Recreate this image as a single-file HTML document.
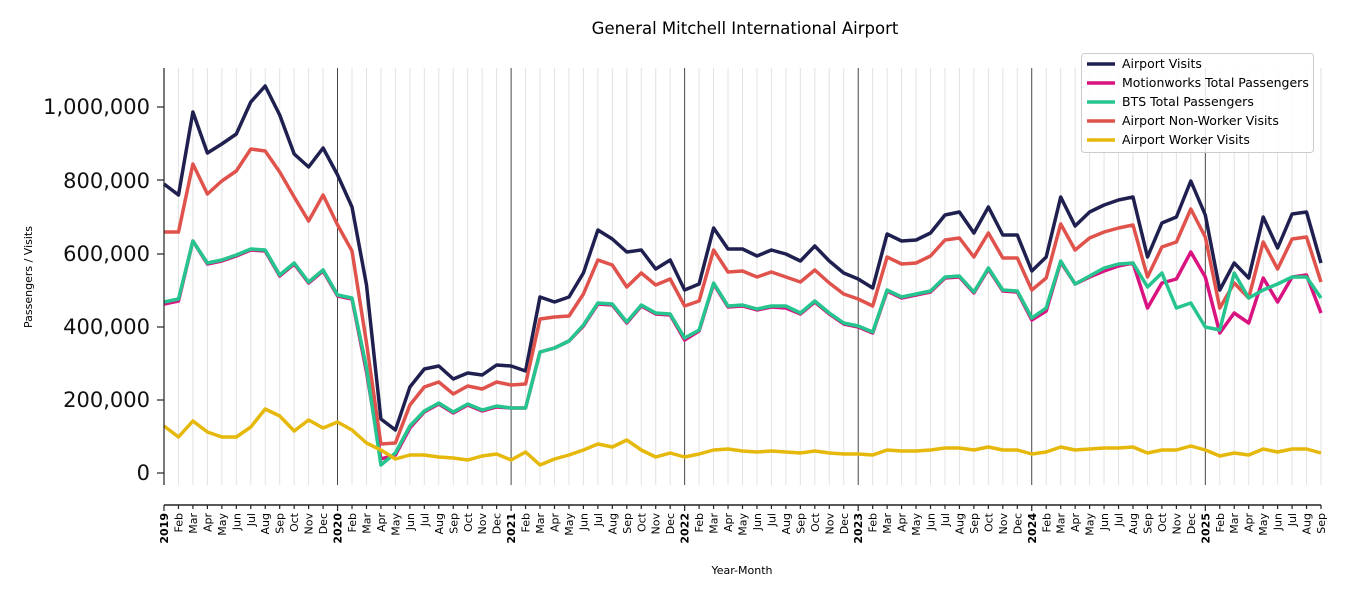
<!DOCTYPE html>
<html><head><meta charset="utf-8"><style>
body{margin:0;background:#fff}
svg{display:block;font-family:"DejaVu Sans","Liberation Sans",sans-serif}
</style></head><body>
<svg id="s" width="1350" height="600" viewBox="0 0 1350 600" xmlns="http://www.w3.org/2000/svg">
<rect width="1350" height="600" fill="#fff"/>
<g id="grid"></g>
<g id="series" fill="none" stroke-width="3.5" stroke-linejoin="round"></g>
<text x="745" y="34" font-size="16.5" text-anchor="middle">General Mitchell International Airport</text>
<line x1="164" y1="68" x2="164" y2="485" stroke="#222" stroke-width="1.2"/>
<line x1="164" y1="505" x2="1321" y2="505" stroke="#222" stroke-width="1.5"/>
<g font-size="21" text-anchor="end" fill="#111">
<text x="150" y="114">1,000,000</text>
<text x="150" y="188">800,000</text>
<text x="150" y="261">600,000</text>
<text x="150" y="334">400,000</text>
<text x="150" y="407">200,000</text>
<text x="150" y="480">0</text>
</g>
<g stroke="#222" stroke-width="1.2">
<line x1="157" y1="107" x2="164" y2="107"/><line x1="157" y1="180" x2="164" y2="180"/>
<line x1="157" y1="254" x2="164" y2="254"/><line x1="157" y1="327" x2="164" y2="327"/>
<line x1="157" y1="400" x2="164" y2="400"/><line x1="157" y1="473" x2="164" y2="473"/>
</g>
<text transform="translate(32,277) rotate(-90)" font-size="11" text-anchor="middle">Passengers / Visits</text>
<text x="742" y="574" font-size="11" text-anchor="middle">Year-Month</text>
<g font-size="11" text-anchor="end">
<g transform="translate(164,0)">
<text transform="translate(4,513) rotate(-90)" font-weight="bold">2019</text>
<text transform="translate(18.5,513) rotate(-90)">Feb</text><text transform="translate(32.9,513) rotate(-90)">Mar</text><text transform="translate(47.4,513) rotate(-90)">Apr</text><text transform="translate(61.9,513) rotate(-90)">May</text><text transform="translate(76.3,513) rotate(-90)">Jun</text><text transform="translate(90.8,513) rotate(-90)">Jul</text><text transform="translate(105.2,513) rotate(-90)">Aug</text><text transform="translate(119.7,513) rotate(-90)">Sep</text><text transform="translate(134.2,513) rotate(-90)">Oct</text><text transform="translate(148.6,513) rotate(-90)">Nov</text><text transform="translate(163.1,513) rotate(-90)">Dec</text>
</g>
<g transform="translate(337.55,0)">
<text transform="translate(4,513) rotate(-90)" font-weight="bold">2020</text>
<text transform="translate(18.5,513) rotate(-90)">Feb</text><text transform="translate(32.9,513) rotate(-90)">Mar</text><text transform="translate(47.4,513) rotate(-90)">Apr</text><text transform="translate(61.9,513) rotate(-90)">May</text><text transform="translate(76.3,513) rotate(-90)">Jun</text><text transform="translate(90.8,513) rotate(-90)">Jul</text><text transform="translate(105.2,513) rotate(-90)">Aug</text><text transform="translate(119.7,513) rotate(-90)">Sep</text><text transform="translate(134.2,513) rotate(-90)">Oct</text><text transform="translate(148.6,513) rotate(-90)">Nov</text><text transform="translate(163.1,513) rotate(-90)">Dec</text>
</g>
<g transform="translate(511.1,0)">
<text transform="translate(4,513) rotate(-90)" font-weight="bold">2021</text>
<text transform="translate(18.5,513) rotate(-90)">Feb</text><text transform="translate(32.9,513) rotate(-90)">Mar</text><text transform="translate(47.4,513) rotate(-90)">Apr</text><text transform="translate(61.9,513) rotate(-90)">May</text><text transform="translate(76.3,513) rotate(-90)">Jun</text><text transform="translate(90.8,513) rotate(-90)">Jul</text><text transform="translate(105.2,513) rotate(-90)">Aug</text><text transform="translate(119.7,513) rotate(-90)">Sep</text><text transform="translate(134.2,513) rotate(-90)">Oct</text><text transform="translate(148.6,513) rotate(-90)">Nov</text><text transform="translate(163.1,513) rotate(-90)">Dec</text>
</g>
<g transform="translate(684.65,0)">
<text transform="translate(4,513) rotate(-90)" font-weight="bold">2022</text>
<text transform="translate(18.5,513) rotate(-90)">Feb</text><text transform="translate(32.9,513) rotate(-90)">Mar</text><text transform="translate(47.4,513) rotate(-90)">Apr</text><text transform="translate(61.9,513) rotate(-90)">May</text><text transform="translate(76.3,513) rotate(-90)">Jun</text><text transform="translate(90.8,513) rotate(-90)">Jul</text><text transform="translate(105.2,513) rotate(-90)">Aug</text><text transform="translate(119.7,513) rotate(-90)">Sep</text><text transform="translate(134.2,513) rotate(-90)">Oct</text><text transform="translate(148.6,513) rotate(-90)">Nov</text><text transform="translate(163.1,513) rotate(-90)">Dec</text>
</g>
<g transform="translate(858.2,0)">
<text transform="translate(4,513) rotate(-90)" font-weight="bold">2023</text>
<text transform="translate(18.5,513) rotate(-90)">Feb</text><text transform="translate(32.9,513) rotate(-90)">Mar</text><text transform="translate(47.4,513) rotate(-90)">Apr</text><text transform="translate(61.9,513) rotate(-90)">May</text><text transform="translate(76.3,513) rotate(-90)">Jun</text><text transform="translate(90.8,513) rotate(-90)">Jul</text><text transform="translate(105.2,513) rotate(-90)">Aug</text><text transform="translate(119.7,513) rotate(-90)">Sep</text><text transform="translate(134.2,513) rotate(-90)">Oct</text><text transform="translate(148.6,513) rotate(-90)">Nov</text><text transform="translate(163.1,513) rotate(-90)">Dec</text>
</g>
<g transform="translate(1031.75,0)">
<text transform="translate(4,513) rotate(-90)" font-weight="bold">2024</text>
<text transform="translate(18.5,513) rotate(-90)">Feb</text><text transform="translate(32.9,513) rotate(-90)">Mar</text><text transform="translate(47.4,513) rotate(-90)">Apr</text><text transform="translate(61.9,513) rotate(-90)">May</text><text transform="translate(76.3,513) rotate(-90)">Jun</text><text transform="translate(90.8,513) rotate(-90)">Jul</text><text transform="translate(105.2,513) rotate(-90)">Aug</text><text transform="translate(119.7,513) rotate(-90)">Sep</text><text transform="translate(134.2,513) rotate(-90)">Oct</text><text transform="translate(148.6,513) rotate(-90)">Nov</text><text transform="translate(163.1,513) rotate(-90)">Dec</text>
</g>
<g transform="translate(1205.3,0)">
<text transform="translate(4,513) rotate(-90)" font-weight="bold">2025</text>
<text transform="translate(18.5,513) rotate(-90)">Feb</text><text transform="translate(32.9,513) rotate(-90)">Mar</text><text transform="translate(47.4,513) rotate(-90)">Apr</text><text transform="translate(61.9,513) rotate(-90)">May</text><text transform="translate(76.3,513) rotate(-90)">Jun</text><text transform="translate(90.8,513) rotate(-90)">Jul</text><text transform="translate(105.2,513) rotate(-90)">Aug</text><text transform="translate(119.7,513) rotate(-90)">Sep</text>
</g>
</g>
<g>
<rect x="1081.5" y="53.5" width="232" height="99" rx="3" fill="#fff" fill-opacity="0.85" stroke="#ccc"/>
<g stroke-width="3.5">
<line x1="1087" y1="64" x2="1115" y2="64" stroke="#1f2050"/>
<line x1="1087" y1="83" x2="1115" y2="83" stroke="#d9137f"/>
<line x1="1087" y1="102" x2="1115" y2="102" stroke="#26c48f"/>
<line x1="1087" y1="121" x2="1115" y2="121" stroke="#e0524c"/>
<line x1="1087" y1="140" x2="1115" y2="140" stroke="#e5b80b"/>
</g>
<g font-size="12.5">
<text x="1122" y="68">Airport Visits</text>
<text x="1122" y="87">Motionworks Total Passengers</text>
<text x="1122" y="106">BTS Total Passengers</text>
<text x="1122" y="125">Airport Non-Worker Visits</text>
<text x="1122" y="144">Airport Worker Visits</text>
</g>
</g>
<script>
(function(){
var NS="http://www.w3.org/2000/svg",st=14.4625,x0=164;
var g=document.getElementById("grid"),s=document.getElementById("series");
function L(p,a){var e=document.createElementNS(NS,"line");for(var k in a)e.setAttribute(k,a[k]);p.appendChild(e);}
for(var i=0;i<=80;i++){var x=x0+i*st;
 if(i%12==0&&i>0)L(g,{x1:x,y1:68,x2:x,y2:485,stroke:"#333","stroke-width":0.9});
 else if(i>0)L(g,{x1:x,y1:68,x2:x,y2:485,stroke:"#e2e2e2","stroke-width":1});
 L(g,{x1:x,y1:505,x2:x,y2:i%12==0?511:509,stroke:"#222","stroke-width":1.2});}
var D={
"#1f2050":[184,195,112,153,144,134,102,86,115,154,167,148,175,207,285,419,430,387,369,366,379,373,375,365,366,371,297,302,297,273,230,239,252,250,269,260,290,284,228,249,249,256,250,254,261,246,261,273,279,288,234,241,240,233,215,212,233,207,235,235,271,257,197,226,212,205,200,197,257,223,217,181,215,290,263,278,217,248,214,212,263],
"#e0524c":[232,232,164,194,181,171,149,151,172,197,221,195,225,251,343,444,443,405,387,382,394,386,389,382,385,384,319,317,316,294,260,265,287,273,285,279,306,301,250,272,271,277,272,277,282,270,283,294,299,306,257,264,263,256,240,238,257,233,258,258,290,278,224,250,238,232,228,225,277,247,242,209,237,308,283,298,242,269,239,237,282],
"#d9137f":[304,301,241,264,261,256,250,251,276,264,283,271,296,299,372,459,455,428,412,404,413,405,411,407,408,408,352,348,341,326,304,305,323,306,314,315,340,331,284,307,306,310,307,308,314,302,314,324,327,333,291,298,295,292,278,277,293,269,291,292,320,311,262,284,277,271,266,263,308,283,279,252,277,333,313,323,278,302,277,275,313],
"#26c48f":[302,299,241,263,260,255,249,250,275,263,282,270,295,298,368,465,453,426,411,403,412,404,410,406,408,408,352,348,341,325,303,304,322,305,313,314,338,330,283,306,305,309,306,306,313,301,313,323,326,332,290,297,294,291,277,276,292,268,290,291,318,308,261,284,276,268,264,263,287,273,308,303,327,330,273,298,290,284,277,277,298],
"#e5b80b":[426,437,421,432,437,437,427,409,416,431,420,428,422,430,443,450,459,455,455,457,458,460,456,454,460,452,465,459,455,450,444,447,440,450,457,453,457,454,450,449,451,452,451,452,453,451,453,454,454,455,450,451,451,450,448,448,450,447,450,450,454,452,447,450,449,448,448,447,453,450,450,446,450,456,453,455,449,452,449,449,453]};
for(var c in D){var p=D[c].map(function(y,i){return (x0+i*st).toFixed(1)+","+y;}).join(" ");
 var e=document.createElementNS(NS,"polyline");e.setAttribute("points",p);e.setAttribute("stroke",c);s.appendChild(e);}
})();
</script>
</svg>
</body></html>
